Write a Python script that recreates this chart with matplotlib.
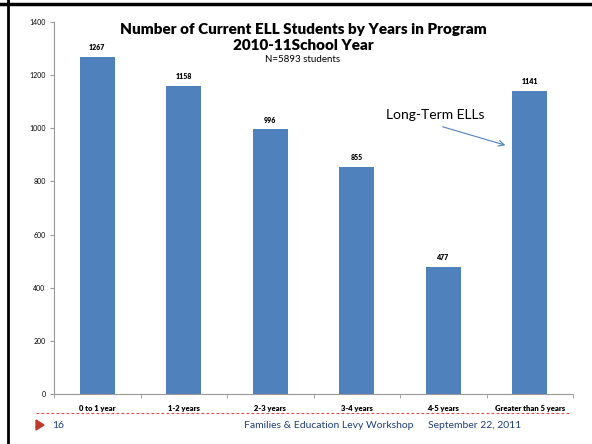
import matplotlib
matplotlib.use("Agg")
import matplotlib.pyplot as plt
from matplotlib.lines import Line2D
from matplotlib.patches import Polygon
import numpy as np

categories = ["0 to 1 year", "1-2 years", "2-3 years", "3-4 years", "4-5 years", "Greater than 5 years"]
values = [1267, 1158, 996, 855, 477, 1141]
yticks = [0, 200, 400, 600, 800, 1000, 1200, 1400]

plt.rcParams['font.family'] = ['Lato', 'DejaVu Sans']

W, H = 592, 444
fig = plt.figure(figsize=(W/100, H/100), dpi=100)
ax = fig.add_axes([54/W, 1-394/H, (573-54)/W, (394-22)/H])

x = np.arange(len(categories))
bars = ax.bar(x, values, width=0.4, color="#4F81BD", zorder=2)
for xi, v in zip(x, values):
    ax.text(xi, v + 22, str(v), ha="center", va="bottom", fontsize=5, fontweight="heavy")

ax.set_xlim(-0.5, len(categories) - 0.5)
ax.set_ylim(0, 1400)
ax.set_yticks(yticks)
ax.set_yticklabels([str(t) for t in yticks], fontsize=5)
ax.set_xticks(x)
ax.set_xticklabels(categories, fontsize=5.5, fontweight="heavy")
ax.tick_params(axis="x", which="major", length=0, pad=8)
ax.set_xticks(np.arange(-0.5, len(categories), 1.0), minor=True)
ax.tick_params(axis="x", which="minor", length=3, color="#999999")
ax.tick_params(axis="y", length=3, color="#999999", pad=3)
for s in ["top", "right"]:
    ax.spines[s].set_visible(False)
for s in ["left", "bottom"]:
    ax.spines[s].set_color("#999999")
    ax.spines[s].set_linewidth(0.8)

fig.text(303/W, 1-29/H, "Number of Current ELL Students by Years in Program", ha="center", va="center",
         fontsize=11, fontweight="heavy")
fig.text(303/W, 1-45/H, "2010-11School Year", ha="center", va="center", fontsize=11, fontweight="heavy")
fig.text(303/W, 1-60/H, "N=5893 students", ha="center", va="center", fontsize=7)

fig.text(435/W, 1-115/H, "Long-Term ELLs", ha="center", va="center", fontsize=10)
ax.annotate("", xy=(508/W, 1-146/H), xytext=(440/W, 1-126/H), xycoords="figure fraction",
            textcoords="figure fraction",
            arrowprops=dict(arrowstyle="->", color="#4F81BD", lw=0.8))

# slide frame
fig.add_artist(Line2D([0, 1], [1-4/H, 1-4/H], color="black", lw=2.5, transform=fig.transFigure))
fig.add_artist(Line2D([7.5/W, 7.5/W], [0, 1], color="black", lw=2, transform=fig.transFigure))

# footer
fig.add_artist(Line2D([36/W, 571/W], [1-413/H, 1-413/H], color="#E8474A", lw=0.8, ls=(0, (2.5, 2)),
                      transform=fig.transFigure))
fig.add_artist(Polygon([[36/W, 1-420/H], [36/W, 1-430/H], [44/W, 1-425/H]], closed=True,
                       color="#C0392B", transform=fig.transFigure))
fig.text(52/W, 1-425/H, "16", ha="left", va="center", fontsize=7.5, color="#1F3F7A")
fig.text(244/W, 1-425/H, "Families & Education Levy Workshop", ha="left", va="center", fontsize=7.5,
         color="#1F3F7A")
fig.text(428/W, 1-425/H, "September 22, 2011", ha="left", va="center", fontsize=7.5, color="#1F3F7A")

fig.savefig("out.png", dpi=100)
